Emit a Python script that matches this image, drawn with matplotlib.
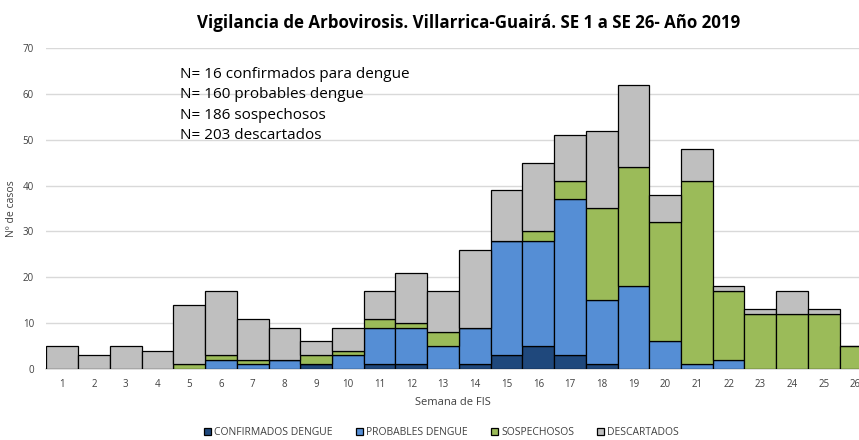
import matplotlib.pyplot as plt
import numpy as np

# Semanas epidemiológicas (SE 1 a SE 26)
semanas = list(range(1, 27))

confirmados = [0, 0, 0, 0, 0, 0, 0, 0, 1, 0, 1, 1, 0, 1, 3, 5, 3, 1, 0, 0, 0, 0, 0, 0, 0, 0]
probables = [0, 0, 0, 0, 0, 2, 1, 2, 0, 3, 8, 8, 5, 8, 25, 23, 34, 14, 18, 6, 1, 2, 0, 0, 0, 0]
sospechosos = [0, 0, 0, 0, 1, 1, 1, 0, 2, 1, 2, 1, 3, 0, 0, 2, 4, 20, 26, 26, 40, 15, 12, 12, 12, 5]
descartados = [5, 3, 5, 4, 13, 14, 9, 7, 3, 5, 6, 11, 9, 17, 11, 15, 10, 17, 18, 6, 7, 1, 1, 5, 1, 0]

series = [
    ("CONFIRMADOS DENGUE", confirmados, "#1F487C"),
    ("PROBABLES DENGUE", probables, "#558ED5"),
    ("SOSPECHOSOS", sospechosos, "#9BBB59"),
    ("DESCARTADOS", descartados, "#BFBFBF"),
]

resumen = [
    "N= 16 confirmados para dengue",
    "N= 160 probables dengue",
    "N= 186 sospechosos",
    "N= 203 descartados",
]

plt.rcParams["font.family"] = ["Open Sans", "DejaVu Sans"]

fig = plt.figure(figsize=(8.59, 4.40), dpi=100)
ax = fig.add_axes([0.0541, 0.1614, 0.9459, 0.7295])

base = np.zeros(len(semanas))
for nombre, valores, color in series:
    ax.bar(semanas, valores, width=1.0, bottom=base, color=color,
           edgecolor="black", linewidth=0.9, label=nombre, zorder=3)
    base += np.array(valores)

ax.set_xlim(0.5, 26.11)
ax.set_ylim(0, 70)
ax.set_yticks(range(0, 71, 10))
ax.set_xticks(semanas)
ax.tick_params(axis="both", length=0, labelsize=7, colors="#404040")
ax.tick_params(axis="x", pad=7)
ax.tick_params(axis="y", pad=9)
ax.grid(axis="y", color="#D9D9D9", linewidth=1, zorder=0)
for lado in ["top", "right", "left"]:
    ax.spines[lado].set_visible(False)
ax.spines["bottom"].set_color("#D9D9D9")
ax.spines["bottom"].set_linewidth(1.2)

ax.set_xlabel("Semana de FIS", fontsize=8, color="#404040", labelpad=5)
ax.set_ylabel("Nº de casos", fontsize=7.5, color="#404040", labelpad=4)

fig.text(0.546, 0.948, "Vigilancia de Arbovirosis. Villarrica-Guairá. SE 1 a SE 26- Año 2019",
         ha="center", va="center", fontsize=12.2, fontweight="bold", color="black")

ax.text(0.164, 0.94, "\n".join(resumen), transform=ax.transAxes, ha="left", va="top",
        fontsize=11, linespacing=1.47, color="black", zorder=5)

fig.legend(loc="center", bbox_to_anchor=(0.514, 0.016), ncol=4, frameon=False,
           fontsize=7.5, handlelength=0.7, handleheight=0.7, handletextpad=0.3,
           columnspacing=2.2, labelcolor="#404040")

fig.savefig("out.png", dpi=100)
